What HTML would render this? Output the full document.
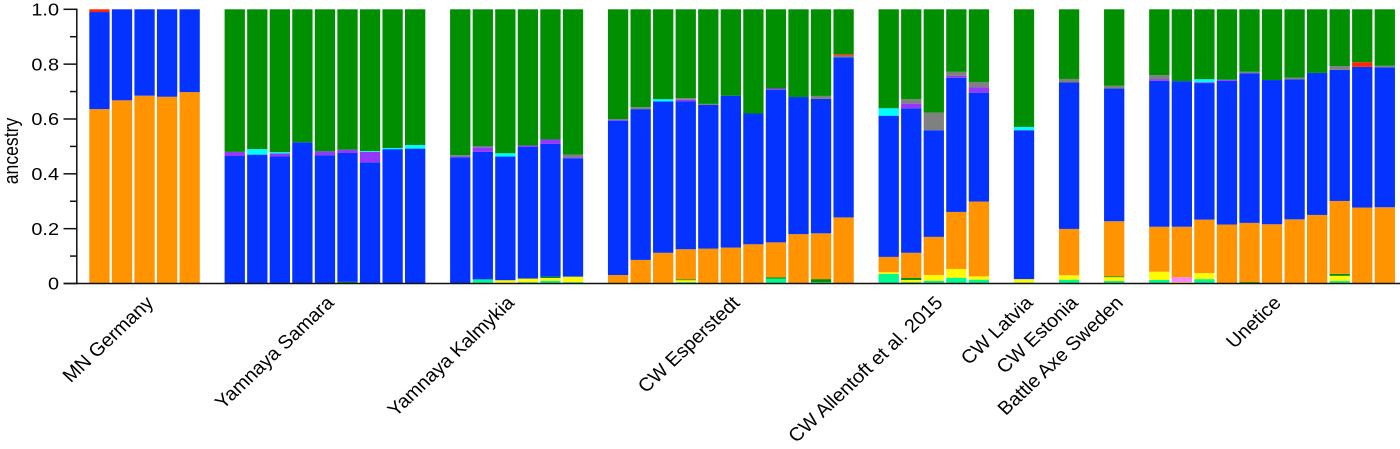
<!DOCTYPE html>
<html lang="en">
<head>
<meta charset="utf-8">
<title>Ancestry stacked bar chart</title>
<style>
html,body{margin:0;padding:0;background:#fff;width:1400px;height:449px;overflow:hidden}
svg{display:block}
text{font-family:"Liberation Sans",Arial,sans-serif;fill:#000}
</style>
</head>
<body>
<svg id="chart" xmlns="http://www.w3.org/2000/svg" width="1400" height="449" viewBox="0 0 1400 449"></svg>
<script>
const groupNames = ["MN Germany","Yamnaya Samara","Yamnaya Kalmykia","CW Esperstedt","CW Allentoft et al. 2015","CW Latvia","CW Estonia","Battle Axe Sweden","Unetice"];
const groupSizes = [5,9,6,11,5,1,1,1,11];
const yTicks = [0,0.2,0.4,0.6,0.8,1];
const yTickLabels = ["0","0.2","0.4","0.6","0.8","1.0"];
const yMinorTicks = [0.1,0.3,0.5,0.7,0.9];

const spring = [0,0,0,0,0, 0,0,0,0,0,0,0,0,0, 0,.015,0,.005,.01,.005, 0,0,0,.005,0,0,0,.018,0,.005,0, .035,.005,.01,.021,.014, .003, .014, .009, .013,0,.016,0,0,0,0,0,.009,0,0];
const yellow = [0,0,0,0,0, 0,0,0,0,0,0,0,0,0, 0,0,.012,.013,.01,.02, 0,0,0,.007,0,0,0,0,0,0,0, .006,.008,.021,.032,.012, .013, .016, .014, .03,.005,.022,0,0,0,0,0,.019,0,0];
const darkGreen = [0,0,0,0,0, 0,0,0,0,0,.006,0,0,0, 0,0,0,0,.005,0, 0,0,0,.003,0,0,0,.004,0,.011,0, 0,.007,0,0,0, 0, 0, .003, 0,0,0,0,.005,0,0,0,.007,0,0];
const pink = [0,0,0,0,0, 0,0,0,0,0,0,0,0,0, 0,0,0,0,0,0, 0,0,0,0,0,0,0,0,0,0,0, 0,0,0,0,0, 0, 0, 0, 0,.018,0,0,0,0,0,0,0,0,0];
const orange = [.636,.668,.685,.681,.698, 0,0,0,0,0,0,0,0,0, 0,0,0,0,0,0, .031,.086,.112,.11,.127,.131,.143,.128,.18,.167,.241, .056,.092,.139,.208,.273, 0, .169, .201, .164,.184,.195,.215,.216,.216,.234,.25,.266,.277,.278];
const blue = [.354,.332,.315,.319,.302, .465,.47,.463,.515,.468,.47,.442,.49,.492, .46,.465,.451,.48,.484,.432, .563,.55,.552,.539,.524,.554,.477,.556,.5,.49,.584, .515,.527,.389,.489,.397, .543, .534, .484, .532,.531,.498,.524,.546,.526,.511,.518,.478,.513,.51];
const purple = [0,0,0,0,0, .015,0,.011,0,.014,.012,.038,0,0, .003,.017,0,.005,.016,.003, .002,0,0,.006,0,0,0,.005,0,0,0, 0,.017,0,.007,.019, 0, 0, 0, .005,0,.003,.004,0,0,0,0,0,0,0];
const cyan = [0,0,0,0,0, 0,.02,.005,0,0,0,.003,.004,.013, 0,0,.012,0,0,0, 0,0,.008,0,0,0,0,0,0,0,0, .027,0,0,0,0, .012, 0, 0, 0,0,.011,0,0,0,0,0,0,0,0];
const gray = [0,0,0,0,0, 0,0,0,0,0,0,0,0,0, .005,.003,0,0,0,.01, .004,.007,0,.006,.004,0,0,0,0,.011,.006, 0,.016,.064,.015,.02, 0, .013, .01, .016,0,0,0,.005,0,.006,0,.014,0,.006];
const red = [.01,0,0,0,0, 0,0,0,0,0,0,0,0,0, 0,0,0,0,0,0, 0,0,0,0,0,0,0,0,0,0,.005, 0,0,0,0,0, 0, 0, 0, 0,0,0,0,0,0,0,0,0,.017,0];
const green = [0,0,0,0,0, .52,.51,.521,.485,.518,.512,.517,.506,.495, .532,.5,.525,.497,.475,.53, .4,.357,.328,.324,.345,.315,.38,.289,.32,.316,.164, .361,.328,.377,.228,.265, .429, .254, .279, .24,.262,.255,.257,.228,.258,.249,.232,.207,.193,.206];

const seriesList = [
  {name:"spring", values:spring, color:"#00fa92"},
  {name:"yellow", values:yellow, color:"#fffb00"},
  {name:"dark-green", values:darkGreen, color:"#008f00"},
  {name:"pink", values:pink, color:"#ff85ff"},
  {name:"orange", values:orange, color:"#ff9300"},
  {name:"blue", values:blue, color:"#0433ff"},
  {name:"purple", values:purple, color:"#9437ff"},
  {name:"cyan", values:cyan, color:"#00fdff"},
  {name:"gray", values:gray, color:"#808080"},
  {name:"red", values:red, color:"#ff2600"},
  {name:"green", values:green, color:"#008f00"}
];

const NS = "http://www.w3.org/2000/svg";
const svg = document.getElementById("chart");
const Y0 = 283.5, YSPAN = 274.2, SLOT0 = 89.3, PITCH = 22.55, BARW = 20.3, STRETCH = 1.13, FONT = 17.6;
const LABEL_FONT = 18.9, LABEL_STRETCH = 1.056;
function yScale(v){ return Y0 - v * YSPAN; }
function slotX(slot){ return SLOT0 + slot * PITCH; }
function make(tag, attrs, parent){
  const el = document.createElementNS(NS, tag);
  for (const k in attrs) el.setAttribute(k, attrs[k]);
  (parent || svg).appendChild(el);
  return el;
}

const barsLayer = make("g", {});



let barIndex = 0, slot = 0;
const labelsLayer = make("g", {"font-size": LABEL_FONT});



groupNames.forEach(function(groupName, g){
  const size = groupSizes[g];
  for (let i = 0; i < size; i++){
    const bar = make("g", {}, barsLayer);
    
    
    let cum = 0;
    seriesList.forEach(function(s){
      const v = s.values[barIndex];
      if (v > 0){
        const seg = make("rect", {x: slotX(slot + i), y: yScale(cum + v), width: BARW, height: v * YSPAN, fill: s.color}, bar);
        
        
      }
      cum += v;
    });
    barIndex++;
  }
  const midSlot = slot + Math.floor((size - 1) / 2);
  const lx = slotX(midSlot) + BARW / 2 + 10;
  const label = make("text", {transform: "translate(" + lx + " 304) scale(" + LABEL_STRETCH + " 1) rotate(-45)", "text-anchor": "end"}, labelsLayer);
  
  
  label.textContent = groupName;
  slot += size + 1;
});

const axisColor = "#111";
const yAxis = make("line", {x1: 76.8, x2: 76.8, y1: yScale(1) - 0.7, y2: Y0 + 0.7, stroke: axisColor, "stroke-width": 1.5});



const xAxis = make("line", {x1: 63.5, x2: 1400, y1: Y0, y2: Y0, stroke: axisColor, "stroke-width": 1.5});



yTicks.forEach(function(v, i){
  const py = yScale(v);
  const tick = make("line", {x1: 63.5, x2: 76.8, y1: py, y2: py, stroke: axisColor, "stroke-width": 1.5});
  
  
  const label = make("text", {transform: "translate(59 " + (py + 6.2) + ") scale(" + STRETCH + " 1)", "text-anchor": "end", "font-size": FONT});
  
  
  label.textContent = yTickLabels[i];
});
yMinorTicks.forEach(function(v){
  const py = yScale(v);
  const tick = make("line", {x1: 70, x2: 76.8, y1: py, y2: py, stroke: axisColor, "stroke-width": 1.5});
  
  
});

const title = make("text", {transform: "translate(18 151) scale(" + STRETCH + " 1) rotate(-90)", "text-anchor": "middle", "font-size": FONT});


title.textContent = "ancestry";
</script>
</body>
</html>
